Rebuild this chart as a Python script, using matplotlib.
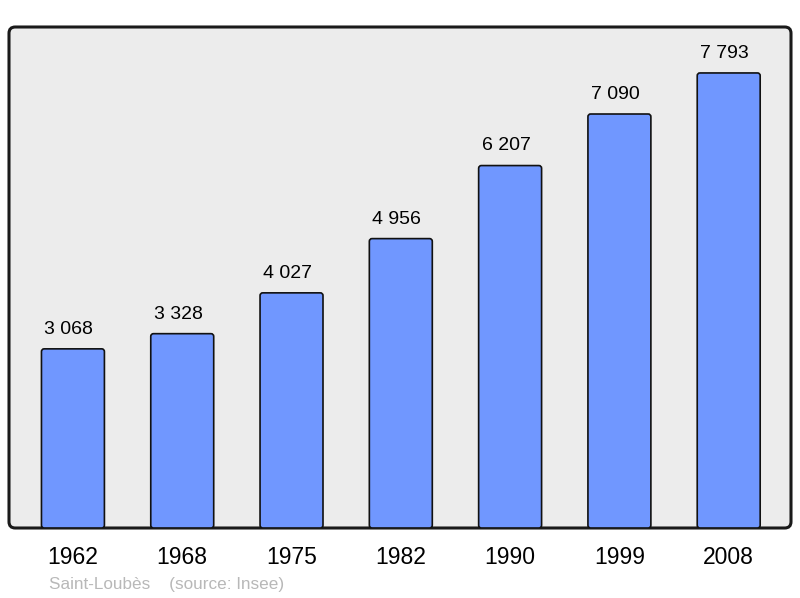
import matplotlib
matplotlib.use('Agg')
import matplotlib.pyplot as plt
from matplotlib.patches import FancyBboxPatch

# Population de Saint-Loubès
years = ['1962', '1968', '1975', '1982', '1990', '1999', '2008']
population = [3068, 3328, 4027, 4956, 6207, 7090, 7793]

plt.rcParams['font.family'] = ['Liberation Sans', 'DejaVu Sans']

fig = plt.figure(figsize=(8, 5.98), dpi=100)
ax = fig.add_axes([9/800, 70/598, 782/800, 501/598])
ax.patch.set_visible(False)
for s in ax.spines.values():
    s.set_visible(False)

# fond gris avec coins arrondis
fond = FancyBboxPatch((0, 0), 1, 1, boxstyle='round,pad=0,rounding_size=0.008',
                      mutation_aspect=782/501, transform=ax.transAxes,
                      facecolor='#ececec', edgecolor='#1a1a1a', linewidth=2.2,
                      clip_on=False, zorder=0)
ax.add_patch(fond)

x = list(range(len(years)))
bars = ax.bar(x, population, width=0.576, color='none', edgecolor='none')

# barres arrondies
for b in bars:
    p = FancyBboxPatch((b.get_x(), b.get_y()), b.get_width(), b.get_height(),
                       boxstyle='round,pad=0,rounding_size=0.025',
                       mutation_aspect=1900, facecolor='#7097ff',
                       edgecolor='#111111', linewidth=1.2, zorder=2)
    ax.add_patch(p)

for xi, v in zip(x, population):
    txt = '{:,}'.format(v).replace(',', ' ')
    ax.annotate(txt, (xi, v), xytext=(-3, 8), textcoords='offset points',
                ha='center', va='bottom', fontsize=14)

ax.set_xlim(-0.585, 6.57)
ax.set_ylim(0, 8580)
ax.set_xticks(x)
ax.set_xticklabels(years, fontsize=16.5)
ax.tick_params(axis='x', length=0, pad=13)
ax.set_yticks([])

fig.text(49/800, 1 - 584/598, 'Saint-Loubès    (source: Insee)', color='#b8b8b8',
         fontsize=12.3, va='center', ha='left')

plt.savefig('out.png', dpi=100)
